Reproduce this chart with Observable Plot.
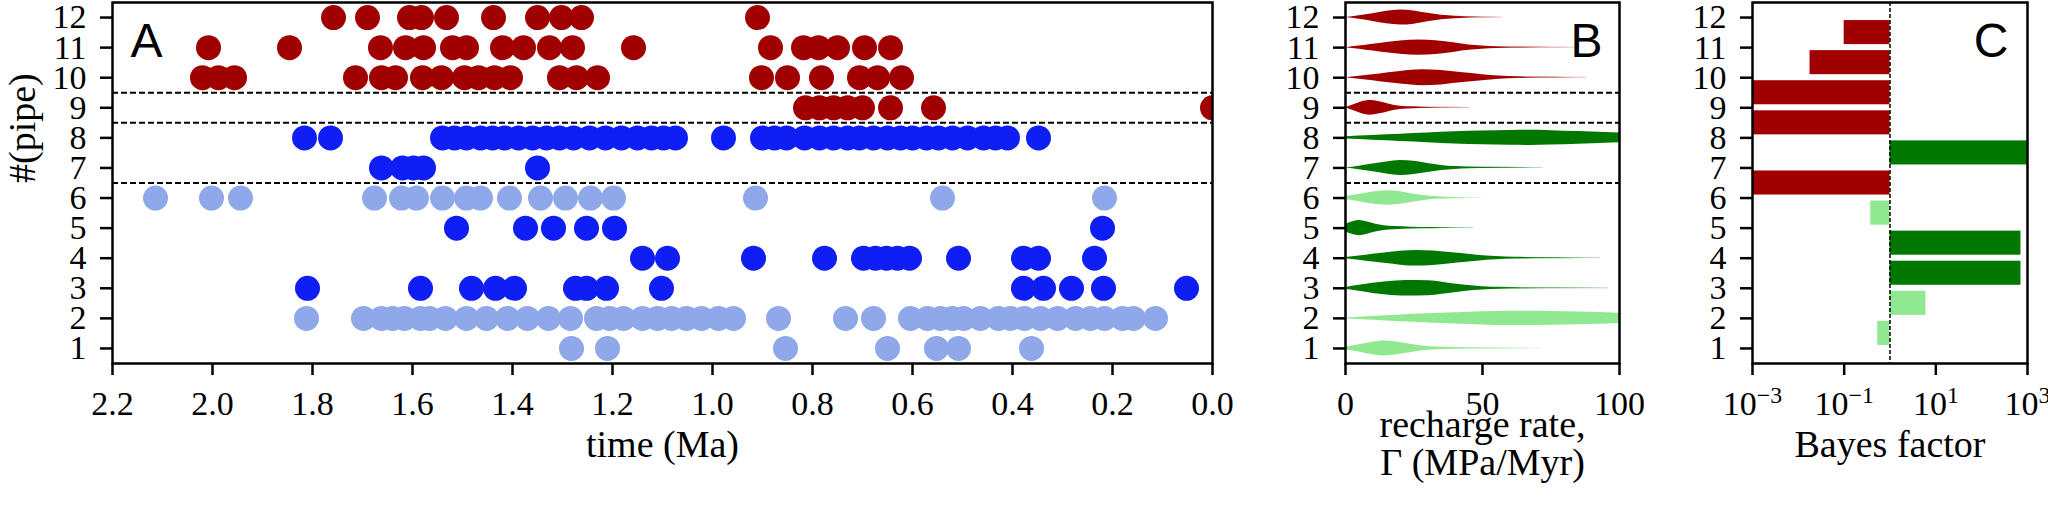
<!DOCTYPE html>
<html><head><meta charset="utf-8">
<script src="https://cdn.jsdelivr.net/npm/d3@7"></script>
<script src="https://cdn.jsdelivr.net/npm/@observablehq/plot@0.6"></script>
<style>
html,body{margin:0;padding:0;background:#fff;}
#wrap{position:relative;width:2048px;height:516px;overflow:hidden;background:#fff;}
#wrap svg{position:absolute;top:0;}
#wrap svg text{font-family:'Liberation Serif','Times New Roman',serif;font-variant:normal;font-variant-numeric:normal;}
</style></head><body><div id="wrap"></div>
<script>
// ---------- shared categories ----------
const pipes = [1,2,3,4,5,6,7,8,9,10,11,12];
const dashLevels = [6.5, 8.5, 9.5];

// ---------- panel A: eruption times (Ma) per pipe ----------
const pipe1  = [1.282,1.210,0.854,0.650,0.552,0.508,0.362];
const pipe2  = [1.812,1.698,1.662,1.640,1.616,1.584,1.566,1.534,1.492,1.452,1.410,1.370,1.328,1.284,1.232,1.206,1.178,1.140,1.110,1.082,1.052,1.022,0.988,0.958,0.868,0.734,0.678,0.604,0.570,0.544,0.520,0.498,0.464,0.428,0.404,0.376,0.344,0.310,0.274,0.244,0.216,0.180,0.158,0.114];
const pipe3  = [1.810,1.584,1.482,1.434,1.396,1.274,1.252,1.212,1.102,0.378,0.338,0.282,0.218,0.052];
const pipe4  = [1.140,1.090,0.918,0.776,0.698,0.674,0.652,0.630,0.606,0.508,0.378,0.348,0.236];
const pipe5  = [1.512,1.374,1.318,1.252,1.196,0.220];
const pipe6  = [2.114,2.002,1.944,1.676,1.622,1.592,1.540,1.492,1.464,1.406,1.344,1.294,1.244,1.198,0.914,0.540,0.216];
const pipe7  = [1.662,1.620,1.598,1.578,1.350];
const pipe8  = [1.816,1.764,1.540,1.516,1.492,1.464,1.440,1.416,1.388,1.360,1.332,1.306,1.278,1.246,1.214,1.182,1.150,1.122,1.098,1.074,0.978,0.900,0.876,0.852,0.816,0.786,0.758,0.730,0.706,0.678,0.650,0.624,0.600,0.572,0.548,0.520,0.490,0.458,0.434,0.410,0.348];
const pipe9  = [0.814,0.786,0.758,0.730,0.700,0.644,0.558,0.000];
const pipe10 = [2.020,1.988,1.956,1.714,1.662,1.634,1.580,1.542,1.496,1.468,1.436,1.404,1.306,1.272,1.230,0.902,0.850,0.782,0.706,0.670,0.622];
const pipe11 = [2.008,1.846,1.664,1.614,1.578,1.520,1.492,1.420,1.378,1.326,1.280,1.158,0.884,0.818,0.788,0.750,0.696,0.644];
const pipe12 = [1.758,1.690,1.606,1.582,1.532,1.438,1.350,1.302,1.262,0.910];
const groupA = ["light","light","blue","blue","blue","light","blue","blue","red","red","red","red"];
const timeTicks = [2.2,2.0,1.8,1.6,1.4,1.2,1.0,0.8,0.6,0.4,0.2,0.0];

// ---------- panel B: recharge-rate violins [rate, half-width] ----------
const violin1  = [[0,0.04],[5,0.12],[10,0.21],[14,0.25],[18,0.22],[23,0.15],[28,0.08],[33,0.045],[40,0.028],[50,0.02],[60,0.016],[71.5,0.013]];
const violin2  = [[0,0.01],[10,0.06],[20,0.11],[30,0.15],[40,0.19],[50,0.22],[60,0.24],[70,0.235],[80,0.22],[90,0.2],[100,0.17]];
const violin3  = [[0,0.03],[5,0.1],[10,0.17],[15,0.22],[22,0.26],[30,0.25],[37,0.18],[44,0.1],[50,0.055],[57,0.032],[65,0.022],[80,0.016],[96,0.013]];
const violin4  = [[0,0.02],[5,0.07],[10,0.13],[15,0.18],[20,0.23],[26,0.26],[32,0.24],[40,0.17],[48,0.1],[55,0.055],[62,0.03],[72,0.02],[83,0.016],[93,0.013]];
const violin5  = [[0,0.12],[3,0.22],[5,0.25],[8,0.2],[11,0.13],[14,0.08],[18,0.05],[24,0.032],[32,0.022],[40,0.016],[47,0.013]];
const violin6  = [[0,0.05],[5,0.12],[10,0.2],[15,0.24],[20,0.21],[25,0.13],[30,0.065],[35,0.035],[42,0.02],[50,0.013]];
const violin7  = [[0,0],[5,0.06],[10,0.13],[15,0.2],[20,0.25],[25,0.22],[30,0.15],[35,0.085],[40,0.048],[45,0.03],[55,0.02],[65,0.016],[72,0.013]];
const violin8  = [[0,0.04],[10,0.08],[20,0.12],[30,0.16],[40,0.2],[50,0.225],[60,0.245],[67,0.25],[75,0.24],[85,0.21],[100,0.165]];
const violin9  = [[0,0],[3,0.1],[6,0.2],[9,0.245],[12,0.21],[16,0.12],[20,0.055],[25,0.032],[30,0.022],[38,0.016],[45.5,0.013]];
const violin10 = [[0,0],[5,0.05],[10,0.1],[15,0.16],[20,0.21],[28,0.265],[35,0.24],[42,0.17],[50,0.1],[56,0.055],[63,0.03],[72,0.02],[80,0.016],[88,0.013]];
const violin11 = [[0,0],[5,0.05],[10,0.11],[15,0.17],[20,0.22],[27,0.25],[33,0.23],[40,0.15],[45,0.09],[50,0.055],[55,0.032],[65,0.02],[75,0.016],[84,0.013]];
const violin12 = [[0,0],[5,0.06],[10,0.13],[15,0.21],[20,0.25],[25,0.22],[30,0.14],[35,0.075],[40,0.04],[45,0.025],[50,0.018],[57,0.013]];
const violinFadeFrom = [45,100,55,65,30,35,50,100,25,60,55,40];
const groupB = ["light","light","green","green","green","light","green","green","red","red","red","red"];
const rateTicks = [0,50,100];

// ---------- panel C: Bayes factors ----------
const bfPos   = [1.5,2.5,3.5,4.5,5.5,6.5,7.5,8.5,9.5,10.5,11.5];
const bfValue = [0.54,6.1,720,720,0.38,0.001,1000,0.001,0.001,0.018,0.1];
const bfGroup = ["light","light","green","green","light","red","green","red","red","red","red"];
const bfTicks = [1e-3,1e-1,1e1,1e3];

// ---------- colours ----------
const colA = {red:"#a00000", blue:"#0f1ef4", light:"#8fa8ea"};
const colB = {red:"#a00000", green:"#007800", light:"#90e890"};

const FONT = "Liberation Serif";
const SANS = "Liberation Sans";
const baseStyle = {fontFamily: "'Liberation Serif', serif", fontSize: "34px", color: "#000", background: "transparent", overflow: "visible"};
const frameOpts = {stroke: "#000", strokeWidth: 2.5};
const noLabel = () => "";
// tick marks only (labels drawn as text marks below)
const xTicks = (ticks) => Plot.axisX(ticks, {tickSize: 12, strokeWidth: 2.5, tickFormat: noLabel, label: null});
const yTicks = () => Plot.axisY(pipes, {tickSize: 12, strokeWidth: 2.5, tickFormat: noLabel, label: null});
const xLabels = (ticks, fmt) => Plot.text(ticks, {x: d => d, text: fmt, frameAnchor: "bottom", dy: 27, lineAnchor: "top", fontFamily: FONT, fontSize: 34});
const yLabels = () => Plot.text(pipes, {y: d => d, text: d => String(d), frameAnchor: "left", dx: -26, textAnchor: "end", fontFamily: FONT, fontSize: 34});
const dashRule = () => Plot.ruleY(dashLevels, {stroke: "#000", strokeWidth: 2, strokeDasharray: "6,3"});
const letter = (s, anchor, dx) => Plot.text([s], {frameAnchor: anchor, dx, dy: 20, lineAnchor: "top",
  textAnchor: anchor === "top-left" ? "start" : "end", fontFamily: SANS, fontSize: 48});
const fixLetters = (svg, s) => svg.querySelectorAll("text").forEach(t => {
  if (t.textContent === s) t.style.fontFamily = "'Liberation Sans', Arial, sans-serif";
});

const wrap = document.getElementById("wrap");
const ns = "http://www.w3.org/2000/svg";

// ---------- Panel A ----------
const allA = [pipe1,pipe2,pipe3,pipe4,pipe5,pipe6,pipe7,pipe8,pipe9,pipe10,pipe11,pipe12];
const dotsA = allA.flatMap((ts, i) => ts.map(t => ({t, pipe: pipes[i], c: colA[groupA[i]]})));
const svgA = Plot.plot({
  width: 1240, height: 516, marginLeft: 112, marginRight: 28, marginTop: 2, marginBottom: 153,
  style: baseStyle,
  x: {domain: [2.2, 0]}, y: {domain: [0.5, 12.5]}, color: {type: "identity"},
  marks: [
    dashRule(),
    Plot.dot(dotsA, {x: "t", y: "pipe", r: 12.5, fill: "c", clip: true}),
    Plot.frame(frameOpts),
    xTicks(timeTicks), yTicks(),
    xLabels(timeTicks, d3.format(".1f")), yLabels(),
    Plot.text(["time (Ma)"], {frameAnchor: "bottom", dy: 93, fontSize: 38, fontFamily: FONT}),
    Plot.text(["#(pipe)"], {frameAnchor: "left", dx: -90, rotate: -90, fontSize: 38, fontFamily: FONT}),
    letter("A", "top-left", 18)
  ]
});
fixLetters(svgA, "A");
svgA.style.left = "0px";
wrap.appendChild(svgA);

// ---------- Panel B ----------
const violins = [violin1,violin2,violin3,violin4,violin5,violin6,violin7,violin8,violin9,violin10,violin11,violin12];
const svgB = Plot.plot({
  width: 439, height: 516, marginLeft: 105, marginRight: 60, marginTop: 2, marginBottom: 153,
  style: baseStyle,
  x: {domain: [0, 100]}, y: {domain: [0.5, 12.5]},
  marks: [
    dashRule(),
    ...violins.map((v, i) => Plot.areaY(v, {
      x: d => d[0], y1: d => pipes[i] - d[1], y2: d => pipes[i] + d[1],
      fill: `url(#vgrad${i})`, curve: "monotone-x", clip: true
    })),
    Plot.frame(frameOpts),
    xTicks(rateTicks), yTicks(),
    xLabels(rateTicks, d => String(d)), yLabels(),
    Plot.text(["recharge rate,\nΓ (MPa/Myr)"], {frameAnchor: "bottom", dy: 111, lineHeight: 1.0, fontSize: 38, fontFamily: FONT}),
    letter("B", "top-right", -17)
  ]
});
fixLetters(svgB, "B");
const defs = document.createElementNS(ns, "defs");
violins.forEach((v, i) => {
  const g = document.createElementNS(ns, "linearGradient");
  g.setAttribute("id", `vgrad${i}`);
  g.setAttribute("x1", "0"); g.setAttribute("y1", "0"); g.setAttribute("x2", "1"); g.setAttribute("y2", "0");
  const xmax = v[v.length - 1][0];
  const f = Math.min(1, violinFadeFrom[i] / xmax);
  const c = colB[groupB[i]];
  [[0, 1], [f, 1], [1, f >= 1 ? 1 : 0.3]].forEach(([o, op]) => {
    const s = document.createElementNS(ns, "stop");
    s.setAttribute("offset", o); s.setAttribute("stop-color", c); s.setAttribute("stop-opacity", op);
    g.appendChild(s);
  });
  defs.appendChild(g);
});
svgB.insertBefore(defs, svgB.firstChild);
svgB.style.left = "1240px";
wrap.appendChild(svgB);

// ---------- Panel C ----------
const barsC = bfPos.map((p, i) => ({pos: p, bf: bfValue[i], c: colB[bfGroup[i]]}));
const svgC = Plot.plot({
  width: 369, height: 516, marginLeft: 73, marginRight: 21, marginTop: 2, marginBottom: 153,
  style: baseStyle,
  x: {type: "log", domain: [1e-3, 1e3]}, y: {domain: [0.5, 12.5]}, color: {type: "identity"},
  marks: [
    Plot.rect(barsC, {x1: () => 1, x2: "bf", y1: d => d.pos - 0.4, y2: d => d.pos + 0.4, fill: "c", clip: true}),
    Plot.ruleX([1], {stroke: "#000", strokeWidth: 1.5, strokeDasharray: "4,2"}),
    Plot.frame(frameOpts),
    xTicks(bfTicks), yTicks(),
    xLabels(bfTicks, d => "10^" + Math.round(Math.log10(d))), yLabels(),
    Plot.text(["Bayes factor"], {frameAnchor: "bottom", dy: 93, fontSize: 38, fontFamily: FONT}),
    letter("C", "top-right", -19)
  ]
});
fixLetters(svgC, "C");
svgC.querySelectorAll("text").forEach(t => {
  const s = t.textContent;
  if (s.startsWith("10^")) {
    const e = s.slice(3).replace("-", "\u2212");
    t.textContent = "10";
    const ts = document.createElementNS(ns, "tspan");
    ts.setAttribute("dy", "-0.5em"); ts.setAttribute("font-size", "0.7em");
    ts.textContent = e;
    t.appendChild(ts);
  }
});
svgC.style.left = "1679px";
wrap.appendChild(svgC);
</script>
</body></html>
